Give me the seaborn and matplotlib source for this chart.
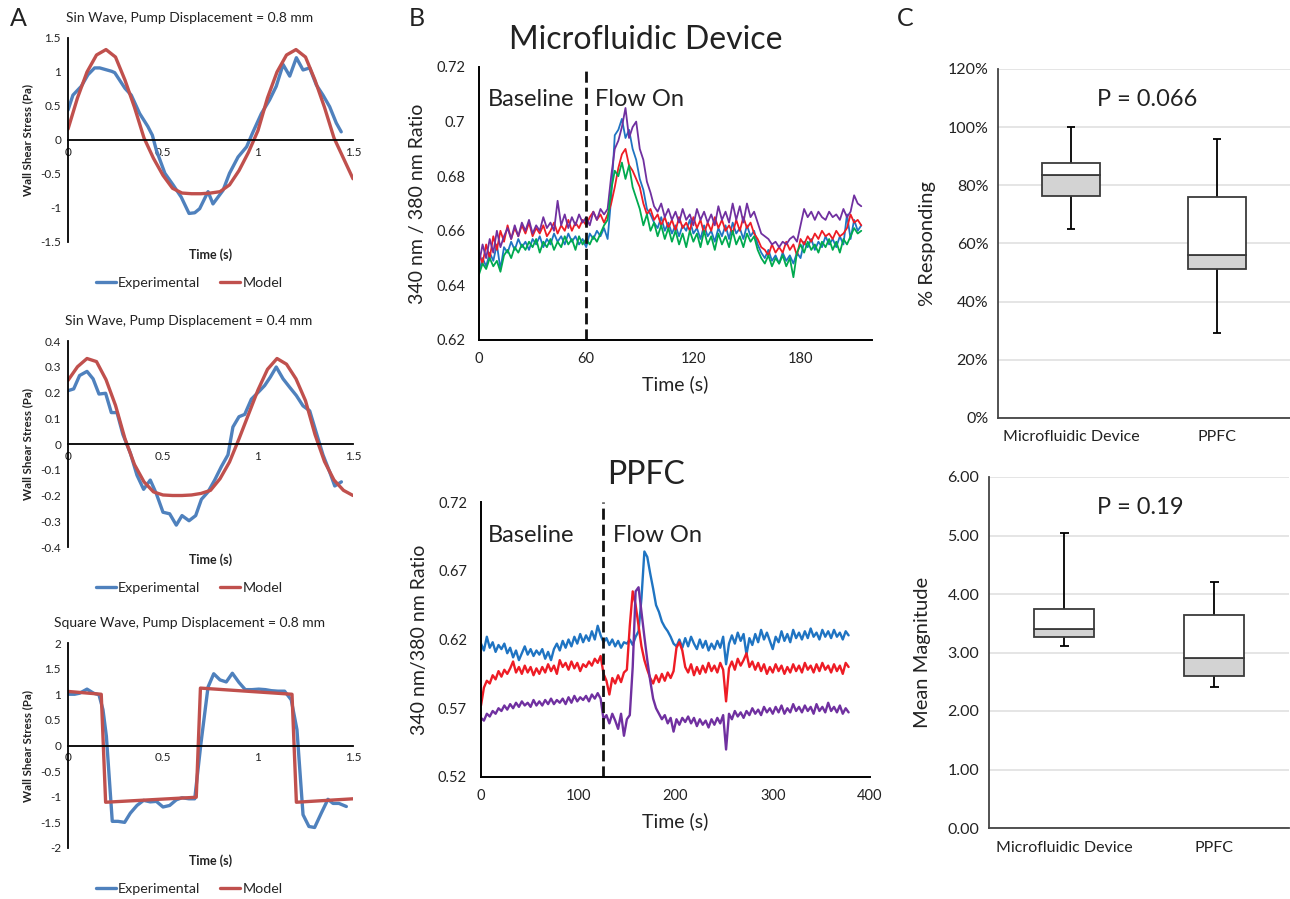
import numpy as np
import matplotlib
matplotlib.use("Agg")
import matplotlib.pyplot as plt
import seaborn as sns
from matplotlib.ticker import FuncFormatter

# ---------------------------------------------------------------- data
# Panel A (top): sin wave, 0.8 mm
A1_exp_t = [0, 0.026, 0.07, 0.105, 0.14, 0.167, 0.23, 0.246, 0.30, 0.333,
            0.377, 0.42, 0.444, 0.465, 0.51, 0.553, 0.596, 0.637, 0.667, 0.693,
            0.737, 0.763, 0.816, 0.85, 0.895, 0.94, 0.974, 1.018, 1.061, 1.096,
            1.132, 1.167, 1.202, 1.237, 1.272, 1.307, 1.342, 1.377, 1.412, 1.438]
A1_exp_v = [0.44, 0.66, 0.79, 0.96, 1.06, 1.06, 1.01, 0.99, 0.76, 0.66,
            0.39, 0.20, 0.07, -0.15, -0.49, -0.66, -0.84, -1.08, -1.07, -1.01,
            -0.76, -0.94, -0.74, -0.49, -0.25, -0.10, 0.12, 0.39, 0.59, 0.79,
            1.11, 0.94, 1.21, 1.03, 1.06, 0.81, 0.66, 0.49, 0.25, 0.12]
A_model_t = [0.00, 0.05, 0.10, 0.15, 0.20, 0.25, 0.30, 0.35, 0.40, 0.45,
             0.50, 0.55, 0.60, 0.65, 0.70, 0.75, 0.80, 0.85, 0.90, 0.95,
             1.00, 1.05, 1.10, 1.15, 1.20, 1.25, 1.30, 1.35, 1.40, 1.45, 1.50]
A1_model_v = [0.16, 0.62, 1.00, 1.25, 1.33, 1.22, 0.88, 0.48, 0.03, -0.27,
              -0.52, -0.71, -0.78, -0.79, -0.79, -0.78, -0.76, -0.66, -0.45, -0.18,
              0.14, 0.62, 1.00, 1.25, 1.33, 1.22, 0.88, 0.48, 0.03, -0.27, -0.57]
A1_yticks = [-1.5, -1, -0.5, 0, 0.5, 1, 1.5]

# Panel A (middle): sin wave, 0.4 mm
A2_exp_t = [0, 0.03, 0.061, 0.10, 0.132, 0.163, 0.198, 0.228, 0.258, 0.289,
            0.328, 0.363, 0.398, 0.433, 0.465, 0.50, 0.535, 0.57, 0.60, 0.637,
            0.672, 0.702, 0.737, 0.772, 0.807, 0.842, 0.868, 0.90, 0.93, 0.965,
            1.0, 1.035, 1.065, 1.096, 1.132, 1.167, 1.202, 1.237, 1.272, 1.307,
            1.342, 1.377, 1.404, 1.439]
A2_exp_v = [0.207, 0.214, 0.266, 0.282, 0.253, 0.194, 0.197, 0.122, 0.122, 0.037,
            -0.035, -0.121, -0.176, -0.14, -0.193, -0.265, -0.271, -0.315, -0.278, -0.298,
            -0.278, -0.215, -0.186, -0.14, -0.088, -0.042, 0.066, 0.106, 0.115, 0.174,
            0.20, 0.227, 0.26, 0.299, 0.253, 0.22, 0.188, 0.148, 0.129, 0.043,
            -0.042, -0.108, -0.163, -0.147]
A2_model_v = [0.247, 0.30, 0.332, 0.32, 0.25, 0.15, 0.02, -0.08, -0.147, -0.186,
              -0.198, -0.20, -0.20, -0.198, -0.192, -0.18, -0.135, -0.07, 0.02, 0.115,
              0.21, 0.29, 0.332, 0.31, 0.253, 0.168, 0.037, -0.068, -0.14, -0.18, -0.20]
A2_yticks = [-0.4, -0.3, -0.2, -0.1, 0, 0.1, 0.2, 0.3, 0.4]

# Panel A (bottom): square wave, 0.8 mm
A3_exp_t = [0, 0.035, 0.061, 0.10, 0.135, 0.163, 0.184, 0.202, 0.233, 0.263,
            0.298, 0.328, 0.363, 0.398, 0.433, 0.465, 0.50, 0.535, 0.57, 0.60,
            0.637, 0.667, 0.70, 0.737, 0.767, 0.80, 0.833, 0.865, 0.90, 0.933,
            0.968, 1.004, 1.039, 1.07, 1.105, 1.14, 1.175, 1.205, 1.237, 1.268,
            1.298, 1.333, 1.368, 1.395, 1.426, 1.465]
A3_exp_v = [1.0, 1.0, 1.02, 1.10, 1.02, 0.99, 0.70, 0.18, -1.48, -1.48,
            -1.50, -1.32, -1.17, -1.07, -1.10, -1.09, -1.20, -1.17, -1.06, -1.02,
            -1.04, -1.04, 0.05, 1.14, 1.40, 1.28, 1.24, 1.41, 1.23, 1.09,
            1.09, 1.10, 1.09, 1.07, 1.06, 1.06, 0.89, 0.31, -1.35, -1.58,
            -1.60, -1.32, -1.05, -1.13, -1.13, -1.19]
A3_model_t = [0, 0.175, 0.198, 0.675, 0.697, 1.179, 1.202, 1.5]
A3_model_v = [1.055, 1.0, -1.107, -1.01, 1.12, 1.0, -1.107, -1.04]
A3_yticks = [-2, -1.5, -1, -0.5, 0, 0.5, 1, 1.5, 2]
A_xticks = [0, 0.5, 1, 1.5]

# Panel B (top): microfluidic device, sampled every 2 s
B1_time = np.arange(0, 216, 2)
B1_blue = [0.645, 0.650, 0.647, 0.652, 0.649, 0.655, 0.646, 0.654, 0.652, 0.656,
           0.653, 0.657, 0.654, 0.656, 0.653, 0.657, 0.655, 0.658, 0.654, 0.657,
           0.655, 0.659, 0.656, 0.658, 0.655, 0.659, 0.656, 0.658, 0.655, 0.657,
           0.654, 0.659, 0.657, 0.660, 0.658, 0.661, 0.657, 0.672, 0.695, 0.697,
           0.701, 0.694, 0.697, 0.690, 0.686, 0.679, 0.675, 0.668, 0.666, 0.663,
           0.661, 0.665, 0.660, 0.663, 0.659, 0.662, 0.658, 0.662, 0.660, 0.664,
           0.659, 0.661, 0.657, 0.662, 0.658, 0.660, 0.656, 0.661, 0.658, 0.662,
           0.657, 0.663, 0.659, 0.661, 0.657, 0.662, 0.658, 0.660, 0.655, 0.652,
           0.650, 0.653, 0.649, 0.651, 0.648, 0.652, 0.649, 0.651, 0.648, 0.652,
           0.650, 0.656, 0.654, 0.657, 0.653, 0.656, 0.654, 0.658, 0.655, 0.657,
           0.654, 0.658, 0.655, 0.666, 0.657, 0.664, 0.660, 0.662]
B1_red = [0.652, 0.648, 0.655, 0.650, 0.658, 0.653, 0.660, 0.656, 0.662, 0.657,
          0.661, 0.658, 0.662, 0.659, 0.663, 0.658, 0.661, 0.659, 0.662, 0.658,
          0.660, 0.663, 0.659, 0.662, 0.660, 0.664, 0.660, 0.663, 0.661, 0.664,
          0.662, 0.665, 0.667, 0.664, 0.666, 0.663, 0.666, 0.670, 0.676, 0.683,
          0.688, 0.690, 0.684, 0.682, 0.679, 0.676, 0.670, 0.666, 0.668, 0.664,
          0.666, 0.662, 0.665, 0.661, 0.664, 0.660, 0.665, 0.661, 0.663, 0.660,
          0.665, 0.661, 0.664, 0.659, 0.663, 0.660, 0.665, 0.661, 0.664, 0.660,
          0.662, 0.659, 0.664, 0.660, 0.665, 0.661, 0.663, 0.659, 0.657, 0.654,
          0.653, 0.651, 0.655, 0.652, 0.654, 0.652, 0.656, 0.653, 0.655, 0.651,
          0.657, 0.655, 0.658, 0.656, 0.659, 0.657, 0.660, 0.658, 0.659, 0.657,
          0.660, 0.658, 0.659, 0.661, 0.666, 0.663, 0.664, 0.662]
B1_purple = [0.648, 0.655, 0.650, 0.657, 0.652, 0.660, 0.654, 0.658, 0.661, 0.657,
             0.662, 0.658, 0.663, 0.660, 0.664, 0.659, 0.662, 0.660, 0.665, 0.661,
             0.663, 0.660, 0.671, 0.662, 0.666, 0.661, 0.665, 0.662, 0.666, 0.663,
             0.665, 0.662, 0.667, 0.664, 0.668, 0.666, 0.668, 0.680, 0.690, 0.693,
             0.698, 0.705, 0.694, 0.698, 0.700, 0.690, 0.686, 0.678, 0.674, 0.669,
             0.667, 0.670, 0.665, 0.668, 0.664, 0.667, 0.663, 0.668, 0.664, 0.666,
             0.662, 0.668, 0.664, 0.667, 0.663, 0.666, 0.662, 0.669, 0.664, 0.667,
             0.663, 0.670, 0.664, 0.669, 0.663, 0.670, 0.665, 0.667, 0.663, 0.659,
             0.658, 0.657, 0.655, 0.656, 0.654, 0.656, 0.655, 0.657, 0.658, 0.656,
             0.662, 0.668, 0.665, 0.667, 0.664, 0.667, 0.665, 0.664, 0.667, 0.665,
             0.666, 0.664, 0.668, 0.665, 0.667, 0.673, 0.670, 0.669]
B1_green = [0.644, 0.648, 0.646, 0.650, 0.647, 0.649, 0.645, 0.651, 0.653, 0.650,
            0.654, 0.652, 0.655, 0.653, 0.656, 0.654, 0.657, 0.652, 0.656, 0.654,
            0.657, 0.653, 0.656, 0.654, 0.658, 0.655, 0.657, 0.653, 0.658, 0.655,
            0.657, 0.655, 0.658, 0.656, 0.659, 0.662, 0.664, 0.675, 0.682, 0.680,
            0.685, 0.679, 0.684, 0.676, 0.672, 0.668, 0.662, 0.666, 0.660, 0.663,
            0.658, 0.662, 0.657, 0.661, 0.656, 0.660, 0.655, 0.659, 0.654, 0.660,
            0.656, 0.659, 0.654, 0.660, 0.655, 0.658, 0.653, 0.659, 0.655, 0.658,
            0.654, 0.660, 0.655, 0.658, 0.654, 0.659, 0.656, 0.658, 0.653, 0.650,
            0.648, 0.651, 0.647, 0.650, 0.648, 0.651, 0.647, 0.650, 0.643, 0.652,
            0.655, 0.652, 0.656, 0.653, 0.655, 0.652, 0.656, 0.654, 0.657, 0.653,
            0.656, 0.652, 0.657, 0.655, 0.658, 0.661, 0.659, 0.660]
B1_yticks = [0.62, 0.64, 0.66, 0.68, 0.70, 0.72]
B1_xticks = [0, 60, 120, 180]

# Panel B (bottom): PPFC, sampled every 3 s
B2_time = np.arange(0, 381, 3)
B2_blue = [0.617, 0.612, 0.622, 0.614, 0.618, 0.611, 0.616, 0.613, 0.617, 0.610,
           0.614, 0.607, 0.612, 0.605, 0.610, 0.615, 0.609, 0.613, 0.608, 0.612,
           0.609, 0.613, 0.606, 0.611, 0.605, 0.613, 0.617, 0.612, 0.619, 0.614,
           0.620, 0.615, 0.622, 0.617, 0.624, 0.618, 0.623, 0.619, 0.626, 0.620,
           0.630, 0.623, 0.618, 0.621, 0.616, 0.620, 0.615, 0.619, 0.614, 0.618,
           0.617, 0.620, 0.616, 0.622, 0.626, 0.650, 0.684, 0.680, 0.668, 0.657,
           0.645, 0.640, 0.633, 0.629, 0.626, 0.622, 0.617, 0.615, 0.620, 0.614,
           0.621, 0.615, 0.622, 0.617, 0.613, 0.620, 0.614, 0.619, 0.612, 0.617,
           0.613, 0.619, 0.614, 0.622, 0.602, 0.617, 0.623, 0.617, 0.625, 0.619,
           0.624, 0.609, 0.621, 0.616, 0.624, 0.618, 0.627, 0.620, 0.625, 0.619,
           0.613, 0.622, 0.618, 0.626, 0.619, 0.624, 0.618, 0.627, 0.621, 0.625,
           0.620, 0.626, 0.621, 0.628, 0.622, 0.625, 0.620, 0.627, 0.622, 0.626,
           0.621, 0.627, 0.622, 0.625, 0.620, 0.626, 0.623]
B2_red = [0.572, 0.585, 0.590, 0.588, 0.594, 0.591, 0.597, 0.593, 0.598, 0.595,
          0.599, 0.604, 0.596, 0.600, 0.595, 0.601, 0.596, 0.600, 0.594, 0.599,
          0.595, 0.600, 0.596, 0.602, 0.597, 0.601, 0.595, 0.605, 0.600, 0.603,
          0.598, 0.604, 0.599, 0.603, 0.597, 0.602, 0.600, 0.604, 0.601, 0.606,
          0.603, 0.608, 0.595, 0.590, 0.580, 0.592, 0.588, 0.594, 0.589, 0.596,
          0.598, 0.630, 0.655, 0.645, 0.630, 0.615, 0.605, 0.598, 0.592, 0.588,
          0.594, 0.589, 0.595, 0.590, 0.596, 0.592, 0.597, 0.614, 0.618, 0.612,
          0.600, 0.596, 0.602, 0.594, 0.600, 0.595, 0.601, 0.596, 0.603, 0.597,
          0.601, 0.596, 0.603, 0.598, 0.575, 0.599, 0.604, 0.598, 0.606, 0.601,
          0.605, 0.610, 0.600, 0.604, 0.598, 0.603, 0.597, 0.602, 0.595, 0.600,
          0.596, 0.602, 0.597, 0.601, 0.595, 0.600, 0.596, 0.602, 0.597, 0.601,
          0.596, 0.603, 0.598, 0.601, 0.596, 0.602, 0.597, 0.603, 0.598, 0.601,
          0.596, 0.602, 0.597, 0.601, 0.595, 0.603, 0.600]
B2_purple = [0.563, 0.561, 0.566, 0.564, 0.568, 0.566, 0.570, 0.568, 0.572, 0.569,
             0.573, 0.570, 0.574, 0.571, 0.575, 0.572, 0.574, 0.571, 0.576, 0.572,
             0.575, 0.572, 0.576, 0.573, 0.577, 0.573, 0.576, 0.574, 0.577, 0.573,
             0.578, 0.574, 0.579, 0.575, 0.578, 0.576, 0.579, 0.575, 0.580, 0.577,
             0.581, 0.577, 0.562, 0.565, 0.559, 0.566, 0.561, 0.555, 0.566, 0.550,
             0.562, 0.565, 0.600, 0.655, 0.658, 0.640, 0.622, 0.605, 0.590, 0.577,
             0.570, 0.566, 0.562, 0.565, 0.559, 0.563, 0.553, 0.562, 0.558, 0.563,
             0.560, 0.564, 0.559, 0.563, 0.557, 0.562, 0.558, 0.561, 0.556, 0.562,
             0.558, 0.563, 0.559, 0.565, 0.540, 0.566, 0.562, 0.568, 0.564, 0.567,
             0.563, 0.568, 0.565, 0.570, 0.566, 0.569, 0.565, 0.571, 0.567, 0.570,
             0.566, 0.571, 0.567, 0.572, 0.566, 0.570, 0.567, 0.573, 0.568, 0.571,
             0.567, 0.572, 0.568, 0.571, 0.566, 0.573, 0.568, 0.571, 0.567, 0.574,
             0.568, 0.571, 0.567, 0.572, 0.566, 0.570, 0.567]
B2_yticks = [0.52, 0.57, 0.62, 0.67, 0.72]
B2_xticks = [0, 100, 200, 300, 400]

# Panel C: box summaries
C_categories = ["Microfluidic Device", "PPFC"]
C1_whisk_hi = [100.0, 95.8]
C1_q3 = [87.6, 75.9]
C1_median = [83.4, 56.0]
C1_q1 = [76.2, 51.3]
C1_whisk_lo = [65.0, 29.2]
C1_yticks = [0, 20, 40, 60, 80, 100, 120]
C2_whisk_hi = [5.04, 4.20]
C2_q3 = [3.75, 3.64]
C2_median = [3.40, 2.90]
C2_q1 = [3.26, 2.59]
C2_whisk_lo = [3.11, 2.41]
C2_yticks = [0, 1, 2, 3, 4, 5, 6]

# ---------------------------------------------------------------- style
sns.set_style("white")
plt.rcParams['font.family'] = ['Lato', 'DejaVu Sans']
plt.rcParams['axes.unicode_minus'] = False
TXT = '#222222'

W, H = 1290, 899
fig = plt.figure(figsize=(W / 100, H / 100), dpi=100)


def px_axes(x0, y0, x1, y1):
    return fig.add_axes([x0 / W, 1 - y1 / H, (x1 - x0) / W, (y1 - y0) / H])


def ftext(x, y, s, **kw):
    fig.text(x / W, 1 - y / H, s, **kw)


gfmt = FuncFormatter(lambda v, p: f"{v:g}")

# ---------------------------------------------------------------- panel A
BLUE_A, RED_A = '#4F81BD', '#C0504D'


def draw_A(box, et, ev, mt, mv, yticks, title):
    x0, y0, x1, y1 = box
    ax = px_axes(*box)
    sns.lineplot(x=et, y=ev, ax=ax, color=BLUE_A, linewidth=2.4,
                 estimator=None, sort=False, label='Experimental')
    sns.lineplot(x=mt, y=mv, ax=ax, color=RED_A, linewidth=2.4,
                 estimator=None, sort=False, label='Model')
    ax.set_xlim(0, 1.5)
    ax.set_ylim(yticks[0], yticks[-1])
    ax.set_xticks(A_xticks)
    ax.set_yticks(yticks)
    ax.xaxis.set_major_formatter(gfmt)
    ax.yaxis.set_major_formatter(gfmt)
    ax.spines['bottom'].set_position(('data', 0))
    ax.spines['top'].set_visible(False)
    ax.spines['right'].set_visible(False)
    for s in ('left', 'bottom'):
        ax.spines[s].set_color('black')
        ax.spines[s].set_linewidth(1.3)
    ax.tick_params(axis='both', direction='out', length=3, width=1.1,
                   color='black', labelsize=8.5, labelcolor=TXT, pad=2)
    ax.set_xlabel('Time (s)', fontsize=9, fontweight='bold', color=TXT)
    ax.xaxis.set_label_coords(0.5, -13 / (y1 - y0))
    ax.xaxis.label.set_va('center')
    ax.set_ylabel('Wall Shear Stress (Pa)', fontsize=8.3, fontweight='bold', color=TXT)
    ax.yaxis.set_label_coords(-40 / (x1 - x0), 0.5)
    ax.yaxis.label.set_va('center')
    ax.text(0.425, 1 + 20 / (y1 - y0), title, transform=ax.transAxes,
            ha='center', va='center', fontsize=10, color=TXT)
    ax.legend(loc='center', bbox_to_anchor=(0.425, -41 / (y1 - y0)), ncol=2,
              frameon=False, fontsize=10.3, handlelength=1.4, handletextpad=0.15,
              columnspacing=1.4)
    ax.set_facecolor('none')


draw_A((68, 38, 353, 242), A1_exp_t, A1_exp_v, A_model_t, A1_model_v, A1_yticks,
       'Sin Wave, Pump Displacement = 0.8 mm')
draw_A((68, 341, 353, 547), A2_exp_t, A2_exp_v, A_model_t, A2_model_v, A2_yticks,
       'Sin Wave, Pump Displacement = 0.4 mm')
draw_A((68, 643, 353, 848), A3_exp_t, A3_exp_v, A3_model_t, A3_model_v, A3_yticks,
       'Square Wave, Pump Displacement = 0.8 mm')

# ---------------------------------------------------------------- panel B
C_BLUE, C_RED, C_PURPLE, C_GREEN = '#1F74C2', '#EE1C25', '#7030A0', '#00AA4F'


def draw_B(box, t, series, xlim, xticks, yticks, ylabel, dash_x, lw,
           base_x, flow_x, title, title_y):
    x0, y0, x1, y1 = box
    ax = px_axes(*box)
    for vals, col in series:
        sns.lineplot(x=t, y=vals, ax=ax, color=col, linewidth=lw,
                     estimator=None, sort=False, legend=False)
    ax.axvline(dash_x, color='#111111', linewidth=2.0, linestyle=(0, (4, 1.8)))
    ax.set_xlim(*xlim)
    ax.set_ylim(yticks[0], yticks[-1])
    ax.set_xticks(xticks)
    ax.set_yticks(yticks)
    ax.yaxis.set_major_formatter(gfmt)
    for s in ('top', 'right'):
        ax.spines[s].set_visible(False)
    for s in ('left', 'bottom'):
        ax.spines[s].set_color('black')
        ax.spines[s].set_linewidth(1.4)
    ax.tick_params(axis='x', direction='out', length=5, width=1.2, color='black',
                   labelsize=10.5, labelcolor=TXT, pad=4)
    ax.tick_params(axis='y', length=0, labelsize=10.5, labelcolor=TXT, pad=10)
    ax.set_xlabel('Time (s)', fontsize=14, color=TXT)
    ax.xaxis.set_label_coords(0.5, -44 / (y1 - y0))
    ax.xaxis.label.set_va('center')
    ax.set_ylabel(ylabel, fontsize=14, color=TXT)
    ax.yaxis.set_label_coords(-61 / (x1 - x0), 0.5)
    ax.yaxis.label.set_va('center')
    ytxt = yticks[-1] - 0.12 * (yticks[-1] - yticks[0])
    ax.text(base_x, ytxt, 'Baseline', fontsize=17, color=TXT, ha='left', va='center')
    ax.text(flow_x, ytxt, 'Flow On', fontsize=17, color=TXT, ha='left', va='center')
    ftext(646, title_y, title, fontsize=23, color=TXT, ha='center', va='center')
    ax.set_facecolor('none')


draw_B((479, 67, 872, 340), B1_time,
       [(B1_blue, C_BLUE), (B1_red, C_RED), (B1_purple, C_PURPLE), (B1_green, C_GREEN)],
       (0, 220), B1_xticks, B1_yticks, '340 nm / 380 nm Ratio', 60, 1.3,
       5, 65, 'Microfluidic Device', 40)
draw_B((481, 502, 870, 777), B2_time,
       [(B2_blue, C_BLUE), (B2_red, C_RED), (B2_purple, C_PURPLE)],
       (0, 400), B2_xticks, B2_yticks, '340 nm/380 nm Ratio', 125, 1.7,
       7, 136, 'PPFC', 475)

# ---------------------------------------------------------------- panel C
EDGE = '#3a3a3a'


def draw_C(box, whi, q3, med, q1, wlo, yticks, fmt, ylabel, ylab_off, ptext, pxy):
    x0, y0, x1, y1 = box
    ax = px_axes(*box)
    lower = [m - a for m, a in zip(med, q1)]
    upper = [b - m for b, m in zip(q3, med)]
    sns.barplot(x=C_categories, y=lower, bottom=q1, color='#d3d3d3', saturation=1,
                edgecolor=EDGE, linewidth=1.3, width=0.4, errorbar=None, ax=ax, zorder=3)
    sns.barplot(x=C_categories, y=upper, bottom=med, color='white', saturation=1,
                edgecolor=EDGE, linewidth=1.3, width=0.4, errorbar=None, ax=ax, zorder=3)
    pos = [0, 1]
    ax.vlines(pos, q3, whi, color='black', linewidth=1.3, zorder=2)
    ax.vlines(pos, wlo, q1, color='black', linewidth=1.3, zorder=2)
    for p, a, b in zip(pos, whi, wlo):
        ax.hlines([a, b], p - 0.03, p + 0.03, color='black', linewidth=1.3, zorder=2)
    ax.set_xlim(-0.5, 1.5)
    ax.set_ylim(yticks[0], yticks[-1])
    ax.set_yticks(yticks)
    ax.yaxis.set_major_formatter(fmt)
    ax.yaxis.grid(True, color='#dedede', linewidth=1.1)
    ax.xaxis.grid(False)
    ax.set_axisbelow(True)
    for s in ('top', 'right'):
        ax.spines[s].set_visible(False)
    for s in ('left', 'bottom'):
        ax.spines[s].set_color('#444444')
        ax.spines[s].set_linewidth(1.3)
    ax.tick_params(axis='x', length=0, labelsize=11.5, labelcolor=TXT, pad=9)
    ax.tick_params(axis='y', direction='out', length=4, width=1.1, color='#444444',
                   labelsize=11.5, labelcolor=TXT, pad=3)
    ax.set_xlabel('')
    ax.set_ylabel(ylabel, fontsize=14.5, color=TXT)
    ax.yaxis.set_label_coords(-ylab_off / (x1 - x0), 0.5)
    ax.yaxis.label.set_va('center')
    ftext(pxy[0], pxy[1], ptext, fontsize=17, color=TXT, ha='center', va='center')
    ax.set_facecolor('none')


draw_C((998, 69, 1290, 418), C1_whisk_hi, C1_q3, C1_median, C1_q1, C1_whisk_lo,
       C1_yticks, FuncFormatter(lambda v, p: f"{v:.0f}%"), '% Responding', 71,
       'P = 0.066', (1147, 99))
draw_C((989, 477, 1289, 828), C2_whisk_hi, C2_q3, C2_median, C2_q1, C2_whisk_lo,
       C2_yticks, FuncFormatter(lambda v, p: f"{v:.2f}"), 'Mean Magnitude', 67,
       'P = 0.19', (1140, 508))

# ---------------------------------------------------------------- panel letters
ftext(18, 18, 'A', fontsize=18, color=TXT, ha='center', va='center')
ftext(417, 18, 'B', fontsize=18, color=TXT, ha='center', va='center')
ftext(905, 18, 'C', fontsize=18, color=TXT, ha='center', va='center')

fig.savefig('out.png', dpi=100, facecolor='white')
